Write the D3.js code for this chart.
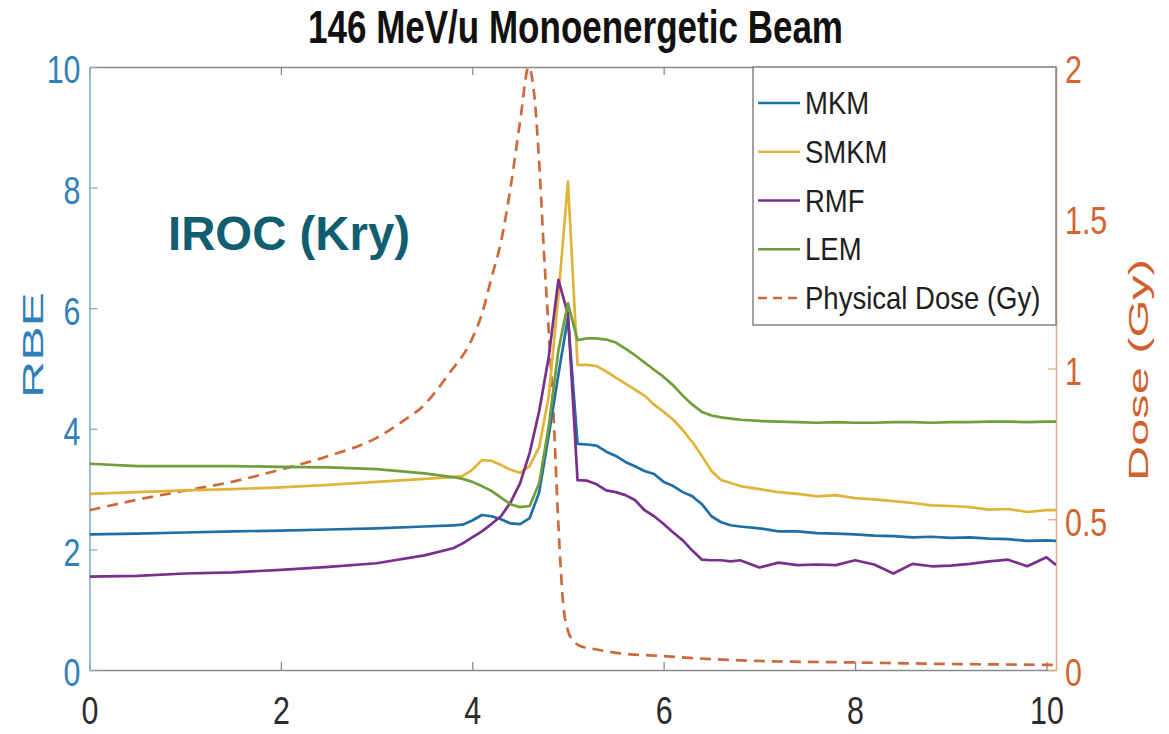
<!DOCTYPE html>
<html>
<head>
<meta charset="utf-8">
<script src="https://cdn.jsdelivr.net/npm/d3@7"></script>
<style>
  html, body { margin: 0; padding: 0; background: #ffffff; }
  svg { display: block; font-family: "Liberation Sans", Arial, Helvetica, sans-serif; }
</style>
</head>
<body>
<script>
// Depth grid (cm) shared by the four RBE models
const depth = [0, 0.5, 1, 1.5, 2, 2.5, 3, 3.5, 3.8, 3.9, 4.0, 4.1, 4.2, 4.3, 4.4, 4.5, 4.6, 4.7, 4.8, 4.9,
  5.0, 5.1, 5.2, 5.3, 5.4, 5.5, 5.6, 5.7, 5.8, 5.9, 6.0, 6.1, 6.2, 6.3, 6.4, 6.5, 6.6, 6.7, 6.8,
  7.0, 7.2, 7.4, 7.6, 7.8, 8.0, 8.2, 8.4, 8.6, 8.8, 9.0, 9.2, 9.4, 9.6, 9.8, 10.0, 10.1];

const mkm = [2.25, 2.26, 2.28, 2.30, 2.31, 2.33, 2.35, 2.38, 2.40, 2.41, 2.48, 2.57, 2.55, 2.50, 2.43, 2.42, 2.52, 2.95, 3.90, 4.90,
  5.85, 3.75, 3.74, 3.72, 3.62, 3.55, 3.45, 3.38, 3.30, 3.25, 3.12, 3.05, 2.95, 2.88, 2.75, 2.55, 2.45, 2.40, 2.38,
  2.35, 2.30, 2.30, 2.27, 2.26, 2.25, 2.23, 2.22, 2.20, 2.21, 2.19, 2.20, 2.18, 2.17, 2.14, 2.15, 2.14];

const smkm = [2.92, 2.95, 2.98, 3.00, 3.03, 3.07, 3.12, 3.17, 3.20, 3.22, 3.32, 3.48, 3.47, 3.40, 3.32, 3.27, 3.38, 3.70, 4.55, 6.20,
  8.10, 5.06, 5.06, 5.04, 4.95, 4.85, 4.75, 4.65, 4.55, 4.40, 4.28, 4.15, 3.98, 3.78, 3.55, 3.30, 3.15, 3.10, 3.05,
  3.00, 2.95, 2.92, 2.88, 2.90, 2.85, 2.83, 2.80, 2.77, 2.73, 2.72, 2.70, 2.66, 2.67, 2.62, 2.65, 2.65];

const rmf = [1.55, 1.56, 1.60, 1.62, 1.66, 1.71, 1.77, 1.90, 2.02, 2.10, 2.20, 2.30, 2.42, 2.55, 2.78, 3.10, 3.60, 4.30, 5.20, 6.47,
  5.90, 3.15, 3.14, 3.08, 2.98, 2.95, 2.90, 2.82, 2.65, 2.55, 2.42, 2.28, 2.15, 1.98, 1.83, 1.82, 1.82, 1.80, 1.82,
  1.70, 1.78, 1.74, 1.75, 1.74, 1.82, 1.75, 1.60, 1.76, 1.72, 1.73, 1.76, 1.80, 1.83, 1.72, 1.87, 1.74];

const lem = [3.42, 3.38, 3.38, 3.38, 3.37, 3.36, 3.33, 3.26, 3.20, 3.17, 3.12, 3.05, 2.97, 2.86, 2.75, 2.70, 2.72, 3.10, 4.05, 5.30,
  6.08, 5.47, 5.50, 5.50, 5.48, 5.43, 5.33, 5.22, 5.10, 4.98, 4.86, 4.72, 4.55, 4.40, 4.28, 4.22, 4.19, 4.17, 4.15,
  4.13, 4.12, 4.11, 4.10, 4.11, 4.10, 4.10, 4.11, 4.11, 4.10, 4.11, 4.11, 4.12, 4.12, 4.11, 4.12, 4.12];

// Physical dose (Gy) along depth
const doseDepth = [0, 0.5, 1, 1.5, 2, 2.5, 3, 3.25, 3.5, 3.75, 4.0, 4.1, 4.2, 4.3, 4.4, 4.5, 4.59, 4.65, 4.7, 4.75,
  4.8, 4.85, 4.9, 4.95, 5.0, 5.05, 5.15, 5.3, 5.5, 6.0, 6.5, 7.0, 8.0, 9.0, 10.1];
const dose = [0.53, 0.565, 0.595, 0.625, 0.665, 0.71, 0.77, 0.82, 0.88, 0.98, 1.10, 1.18, 1.30, 1.42, 1.60, 1.82, 2.0, 1.90, 1.68, 1.38,
  1.12, 0.84, 0.48, 0.22, 0.13, 0.10, 0.077, 0.068, 0.057, 0.046, 0.036, 0.030, 0.025, 0.020, 0.017];

const seriesNames = ["MKM", "SMKM", "RMF", "LEM"];
const seriesValues = [mkm, smkm, rmf, lem];
const seriesColors = ["#1f6fa6", "#e0b43a", "#78308c", "#6f9e3a"];
const doseName = "Physical Dose (Gy)";
const doseColor = "#cc6a3c";

const depthTicks = [0, 2, 4, 6, 8, 10];
const rbeTicks = [0, 2, 4, 6, 8, 10];
const doseTicks = [0, 0.5, 1, 1.5, 2];

const titleText = "146 MeV/u Monoenergetic Beam";
const noteText = "IROC (Kry)";
const rbeLabel = "RBE";
const doseLabel = "Dose (Gy)";

const W = 1169, H = 734;
const plotLeft = 89.5, plotRight = 1056, plotTop = 67, plotBottom = 670;

const svg = d3.select("body").append("svg").attr("width", W).attr("height", H);

const x = d3.scaleLinear().domain([0, 10.1]).range([plotLeft, plotRight]);
const y = d3.scaleLinear().domain([0, 10]).range([plotBottom, plotTop]);
const yDose = d3.scaleLinear().domain([0, 2]).range([plotBottom, plotTop]);

const SX = 0.8; // horizontal squeeze of the tall tick-label glyphs

svg.append("defs").append("clipPath").attr("id", "plotClip")
  .append("rect").attr("x", plotLeft).attr("y", plotTop - 2)
  .attr("width", plotRight - plotLeft).attr("height", plotBottom - plotTop + 2);

// Axes
const styleAxis = (g, lineColor, textColor) => {
  g.select(".domain").attr("stroke", lineColor).attr("stroke-width", 1.6);
  g.selectAll(".tick line").attr("stroke", lineColor).attr("stroke-width", 1.3);
  g.selectAll(".tick text").attr("fill", textColor).attr("font-size", 38)
    .attr("font-family", "'Liberation Sans', Arial, sans-serif");
};

const gBottom = svg.append("g").attr("transform", `translate(0,${plotBottom})`)
  .call(d3.axisBottom(x).tickValues(depthTicks).tickFormat(d => String(d))
    .tickSizeInner(-8).tickSizeOuter(0).tickPadding(27));
styleAxis(gBottom, "#8a8a8a", "#2b2b2b");
gBottom.selectAll(".tick text").attr("transform", `scale(${SX},1)`);

const gTop = svg.append("g").attr("transform", `translate(0,${plotTop})`)
  .call(d3.axisTop(x).tickValues(depthTicks).tickFormat("").tickSizeInner(-8).tickSizeOuter(0));
styleAxis(gTop, "#8a8a8a", "none");

const gLeft = svg.append("g").attr("transform", `translate(${plotLeft},0)`)
  .call(d3.axisLeft(y).tickValues(rbeTicks).tickFormat(d => String(d))
    .tickSizeInner(-8).tickSizeOuter(0).tickPadding(9));
styleAxis(gLeft, "#86aecb", "#2f80b8");
gLeft.selectAll(".tick text").attr("x", -9 / SX).attr("dy", "0.42em")
  .attr("transform", `scale(${SX},1)`);

const gRight = svg.append("g").attr("transform", `translate(${plotRight},0)`)
  .call(d3.axisRight(yDose).tickValues(doseTicks).tickFormat(d => String(d))
    .tickSizeInner(-8).tickSizeOuter(0).tickPadding(9));
styleAxis(gRight, "#e2ab8c", "#d0652f");
gRight.selectAll(".tick text").attr("x", 9 / SX).attr("dy", "0.42em")
  .attr("transform", `scale(${SX},1)`);

// Curves
const plot = svg.append("g").attr("clip-path", "url(#plotClip)");

const doseLine = d3.line().x((d, i) => x(doseDepth[i])).y(d => yDose(d)).curve(d3.curveMonotoneX);
plot.append("path").datum(dose)
  .attr("d", doseLine)
  .attr("fill", "none").attr("stroke", doseColor).attr("stroke-width", 2.7)
  .attr("stroke-dasharray", "11,7");

const rbeLine = d3.line().x((d, i) => x(depth[i])).y(d => y(d));
seriesValues.forEach((vals, k) => {
  plot.append("path").datum(vals)
    .attr("d", rbeLine)
    .attr("fill", "none").attr("stroke", seriesColors[k]).attr("stroke-width", 2.7)
    .attr("stroke-linejoin", "round");
});

// Rotated axis titles, stretched along their length to the given span
const stretchedLabel = (text, cx, cy, size, span, color) => {
  const g = svg.append("g");
  const t = g.append("text")
    .attr("text-anchor", "middle")
    .attr("font-size", size).attr("fill", color)
    .text(text);
  const natural = t.node().getComputedTextLength();
  g.attr("transform", `translate(${cx},${cy}) rotate(-90) scale(${span / natural},1)`);
};
stretchedLabel(rbeLabel, 43, 345, 30, 106, "#2f80b8");
stretchedLabel(doseLabel, 1148, 370, 28, 222, "#d0602c");

// Title
svg.append("text")
  .attr("x", 575.5).attr("y", 43)
  .attr("text-anchor", "middle")
  .attr("font-size", 46).attr("font-weight", "bold").attr("fill", "#111")
  .attr("textLength", 535).attr("lengthAdjust", "spacingAndGlyphs")
  .text(titleText);

// Annotation
svg.append("text")
  .attr("x", 168).attr("y", 250)
  .attr("font-size", 48).attr("font-weight", "bold").attr("fill", "#115e70")
  .attr("textLength", 242).attr("lengthAdjust", "spacingAndGlyphs")
  .text(noteText);

// Legend
const legend = svg.append("g");
legend.append("rect")
  .attr("x", 753).attr("y", plotTop).attr("width", plotRight - 753).attr("height", 325 - plotTop)
  .attr("fill", "#fff").attr("stroke", "#7a7a7a").attr("stroke-width", 1.4);

const legendItems = seriesNames.map((n, i) => ({ name: n, color: seriesColors[i], dash: null }))
  .concat([{ name: doseName, color: doseColor, dash: "9,6" }]);
const rowY = d3.scaleLinear().domain([0, 4]).range([103, 298]);

legendItems.forEach((it, i) => {
  const cy = rowY(i);
  legend.append("line")
    .attr("x1", 758).attr("x2", 800).attr("y1", cy).attr("y2", cy)
    .attr("stroke", it.color).attr("stroke-width", 2.7)
    .attr("stroke-dasharray", it.dash);
  const g = legend.append("g").attr("transform", `translate(805,${cy + 11}) scale(0.86,1)`);
  g.append("text")
    .attr("x", 0).attr("y", 0)
    .attr("font-size", 32).attr("fill", "#1e1e1e")
    .text(it.name);
});
</script>
</body>
</html>
